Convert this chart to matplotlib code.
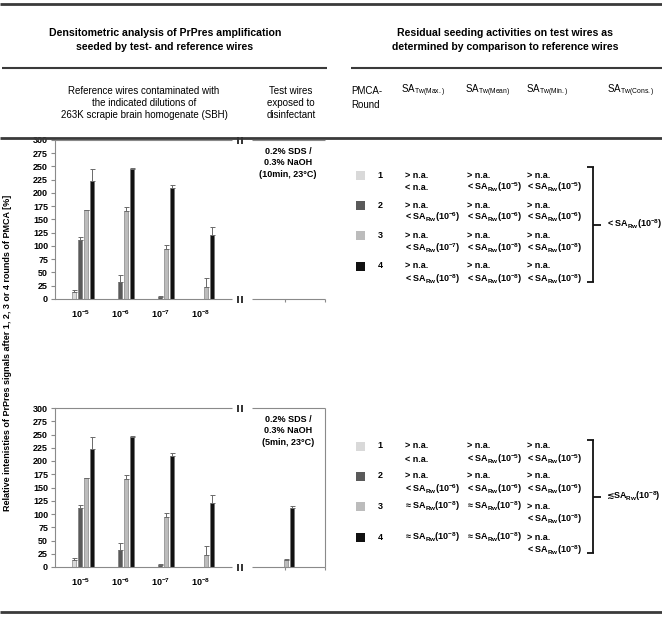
import matplotlib
matplotlib.use("Agg")
import matplotlib.pyplot as plt
from matplotlib.patches import Rectangle
import numpy as np

plt.rcParams['font.family'] = ['Liberation Sans', 'DejaVu Sans']
plt.rcParams['mathtext.default'] = 'regular'

W, H, DPI = 662, 617, 100

# ---------------- data ----------------
dilutions = ['10$^{-5}$', '10$^{-6}$', '10$^{-7}$', '10$^{-8}$']
round_names = ['1', '2', '3', '4']
round_colors = ['#d9d9d9', '#5a5a5a', '#bcbcbc', '#111111']

ref_round1 = [13, 0, 0, 0]
ref_round2 = [112, 32, 4, 0]
ref_round3 = [167, 166, 93.5, 22.5]
ref_round4 = [223, 246, 210, 121]
ref_err1 = [4, 0, 0, 0]
ref_err2 = [5, 12.5, 2.5, 0]
ref_err3 = [0.8, 8, 8, 18]
ref_err4 = [22, 0.8, 4.5, 14.5]

test_10min = [0, 0, 0, 0]
test_10min_err = [0, 0, 0, 0]
test_5min = [0, 0, 12.5, 112]
test_5min_err = [0, 0, 2, 2.5]

treat_10min = "0.2% SDS /\n0.3% NaOH\n(10min, 23°C)"
treat_5min = "0.2% SDS /\n0.3% NaOH\n(5min, 23°C)"


def sa(exp):
    return "SA$_{Rw}$(10$^{-%d}$)" % exp


table_10min = [
    ["> n.a.\n< n.a.", "> n.a.\n< " + sa(5), "> n.a.\n< " + sa(5)],
    ["> n.a.\n< " + sa(6), "> n.a.\n< " + sa(6), "> n.a.\n< " + sa(6)],
    ["> n.a.\n< " + sa(7), "> n.a.\n< " + sa(8), "> n.a.\n< " + sa(8)],
    ["> n.a.\n< " + sa(8), "> n.a.\n< " + sa(8), "> n.a.\n< " + sa(8)],
]
cons_10min = ("<", sa(8))
table_5min = [
    ["> n.a.\n< n.a.", "> n.a.\n< " + sa(5), "> n.a.\n< " + sa(5)],
    ["> n.a.\n< " + sa(6), "> n.a.\n< " + sa(6), "> n.a.\n< " + sa(6)],
    ["\u2248 " + sa(8), "\u2248 " + sa(8), "> n.a.\n< " + sa(8)],
    ["\u2248 " + sa(8), "\u2248 " + sa(8), "> n.a.\n< " + sa(8)],
]
cons_5min = ("\u2272", sa(8))

ref_vals = [ref_round1, ref_round2, ref_round3, ref_round4]
ref_errs = [ref_err1, ref_err2, ref_err3, ref_err4]

# ---------------- figure ----------------
fig = plt.figure(figsize=(W / DPI, H / DPI), dpi=DPI)
ov = fig.add_axes([0, 0, 1, 1], zorder=5)
ov.set_xlim(0, W)
ov.set_ylim(H, 0)
ov.axis('off')
ov.patch.set_alpha(0)

LINE = '#3a3a3a'
AX = '#8a8a8a'
FS = 6.5


def hline(x0, x1, y, lw=0.8, color=AX):
    ov.plot([x0, x1], [y, y], color=color, lw=lw, solid_capstyle='butt')


def vline(x, y0, y1, lw=0.8, color=AX):
    ov.plot([x, x], [y0, y1], color=color, lw=lw, solid_capstyle='butt')


# header rules
hline(0, W, 4, lw=2.0, color=LINE)
hline(2, 327, 68, lw=1.5, color=LINE)
hline(351, W, 68, lw=1.5, color=LINE)
hline(0, W, 138, lw=2.0, color=LINE)
hline(0, W, 612, lw=2.0, color=LINE)

ov.text(165, 40, "Densitometric analysis of PrPres amplification\nseeded by test- and reference wires",
        ha='center', va='center', fontsize=7.6, fontweight='bold', linespacing=1.45)
ov.text(505, 40, "Residual seeding activities on test wires as\ndetermined by comparison to reference wires",
        ha='center', va='center', fontsize=7.6, fontweight='bold', linespacing=1.45)
ov.text(144, 103, "Reference wires contaminated with\nthe indicated dilutions of\n263K scrapie brain homogenate (SBH)",
        ha='center', va='center', fontsize=7, linespacing=1.25)
ov.text(291, 103, "Test wires\nexposed to\ndisinfectant",
        ha='center', va='center', fontsize=7, linespacing=1.25)
ov.text(351, 98, "PMCA-\nRound", ha='left', va='center', fontsize=7, linespacing=1.4)
for xh, sub in [(401, 'Tw(Max.)'), (465, 'Tw(Mean)'), (526, 'Tw(Min.)'), (607, 'Tw(Cons.)')]:
    ov.text(xh, 91, "SA$_{%s}$" % sub, ha='left', va='center', fontsize=7)

ov.text(8, 353, "Relative intenisties of PrPres signals after 1, 2, 3 or 4 rounds of PMCA [%]",
        rotation=90, ha='center', va='center', fontsize=FS, fontweight='bold')


def to_x(px):
    return (px - 83) / 40.0


offsets = [-0.225, -0.075, 0.075, 0.225]
bw = 0.09


def add_chart(top, bot, test_vals, test_errs, treat, right_spine):
    ax = fig.add_axes([55 / W, 1 - bot / H, (325 - 55) / W, (bot - top) / H])
    ax.set_xlim(to_x(55), to_x(325))
    ax.set_ylim(0, 300)
    ax.patch.set_alpha(0)
    for s in ['top', 'right', 'bottom']:
        ax.spines[s].set_visible(False)
    ax.spines['left'].set_color(AX)
    ax.spines['left'].set_linewidth(0.8)
    ax.set_yticks(np.arange(0, 301, 25))
    ax.set_yticklabels([str(v) for v in range(0, 301, 25)], fontsize=FS, fontweight='bold')
    ax.tick_params(axis='y', length=3, width=0.8, color=AX, pad=2)
    ax.set_xticks(np.arange(4) - 0.07)
    ax.set_xticklabels(dilutions, fontsize=FS, fontweight='bold')
    ax.tick_params(axis='x', length=0, pad=7)
    xs_all = np.r_[np.arange(4), 5.0]
    for i in range(4):
        vals = np.array(ref_vals[i] + [test_vals[i]], dtype=float)
        errs = np.array(ref_errs[i] + [test_errs[i]], dtype=float)
        m = vals > 0
        xs = xs_all[m] + offsets[i]
        ax.bar(xs, vals[m], width=bw, color=round_colors[i], edgecolor='#6f6f6f', linewidth=0.4,
               zorder=2)
        ax.errorbar(xs, vals[m], yerr=[np.zeros(m.sum()), errs[m]], fmt='none', ecolor='#6a6a6a',
                    elinewidth=0.7, capsize=1.8, capthick=0.7, zorder=3)
    # frame pieces with axis breaks
    for y in (top, bot):
        hline(55, 232, y)
        hline(252, 325, y)
        vline(237.5, y - 3.5, y + 3.5, lw=1.4, color='#333333')
        vline(241.5, y - 3.5, y + 3.5, lw=1.4, color='#333333')
    vline(285, bot, bot + 3)
    vline(325, bot, bot + 3)
    if right_spine:
        vline(325, top, bot)
    ov.text(288, top + 7, treat, ha='center', va='top', fontsize=FS, fontweight='bold', linespacing=1.35)
    return ax


add_chart(140, 299, test_10min, test_10min_err, treat_10min, False)
add_chart(408, 567, test_5min, test_5min_err, treat_5min, True)


def add_table(row_y, table, cons, btop, bbot):
    for i, y in enumerate(row_y):
        ov.add_patch(Rectangle((356, y - 4.5), 9, 9, facecolor=round_colors[i], edgecolor='none'))
        ov.text(380, y + 2.5, round_names[i], ha='center', va='baseline', fontsize=FS, fontweight='bold')
        for x, cell in zip([405, 467, 527], table[i]):
            for k, line in enumerate(cell.split("\n")):
                ov.text(x, y + 2.5 + 13 * k, line, ha='left', va='baseline', fontsize=FS,
                        fontweight='bold')
    vline(593, btop, bbot, lw=1.3, color='#111111')
    hline(587, 593.6, btop, lw=1.3, color='#111111')
    hline(587, 593.6, bbot, lw=1.3, color='#111111')
    ymid = (btop + bbot) / 2
    hline(593, 601, ymid, lw=1.3, color='#111111')
    sym, rest = cons
    if sym == "<":
        ov.text(607, ymid + 2.5, "< " + rest, ha='left', va='baseline', fontsize=FS,
                fontweight='bold')
    else:
        ov.text(606, ymid + 2.5, sym, ha='left', va='baseline', fontsize=FS, fontweight='bold',
                family=['DejaVu Sans'])
        ov.text(613, ymid + 2.5, rest, ha='left', va='baseline', fontsize=FS, fontweight='bold')


add_table([175, 205, 235.5, 266], table_10min, cons_10min, 167, 282)
add_table([446, 476, 506.5, 537.5], table_5min, cons_5min, 440, 553)

fig.savefig("out.png", dpi=DPI)
